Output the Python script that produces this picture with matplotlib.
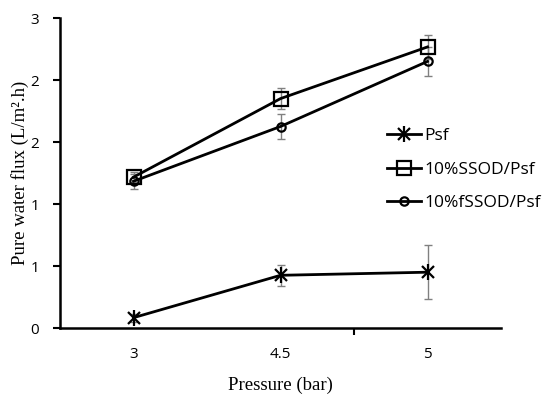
import matplotlib
matplotlib.use('Agg')
import matplotlib.pyplot as plt
from matplotlib.ticker import FormatStrFormatter, FixedLocator
from matplotlib.lines import Line2D

# pressure categories (bar)
pressure = ['3', '4.5', '5']

# pure water flux values
psf = [0.10, 0.51, 0.54]
psf_err = [0.04, 0.10, 0.26]
ssod = [1.46, 2.22, 2.72]
ssod_err = [0.05, 0.10, 0.12]
fssod = [1.42, 1.95, 2.58]
fssod_err = [0.07, 0.12, 0.14]

series = [
    ('Psf', psf, psf_err, 'x'),
    ('10%SSOD/Psf', ssod, ssod_err, 's'),
    ('10%fSSOD/Psf', fssod, fssod_err, 'o'),
]


def main():
    fig = plt.figure(figsize=(5.5, 3.99), dpi=100)
    ax = fig.add_axes([60 / 550, 71 / 399, 441 / 550, 310 / 399])
    x = list(range(len(pressure)))
    for name, vals, err, mk in series:
        ax.errorbar(x, vals, yerr=err, ecolor='#808080', elinewidth=1,
                    capsize=3, capthick=1, fmt='none', zorder=2)
        size = {'x': 8, 's': 10, 'o': 6}[mk]
        ax.plot(x, vals, color='black', lw=2, marker=mk, markersize=size,
                markerfacecolor='none', markeredgecolor='black',
                markeredgewidth=1.6, zorder=3)
    # Excel star marker = x with a vertical stroke
    ax.plot(x, psf, ls='none', marker='|', markersize=12,
            markeredgecolor='black', markeredgewidth=1.6, zorder=3)

    ax.set_xlim(-0.5, 2.5)
    ax.set_ylim(0, 3)
    ax.set_xticks(x)
    ax.set_xticklabels(pressure)
    ax.xaxis.set_minor_locator(FixedLocator([1.5]))
    ax.tick_params(axis='x', which='major', length=0, pad=14)
    ax.tick_params(axis='x', which='minor', length=5, width=1.5)
    ax.set_yticks([0, 0.6, 1.2, 1.8, 2.4, 3.0])
    ax.yaxis.set_major_formatter(FormatStrFormatter('%.0f'))
    ax.tick_params(axis='y', length=5, width=1.5, pad=10)
    for lab in ax.get_xticklabels() + ax.get_yticklabels():
        lab.set_fontfamily('Open Sans')
        lab.set_fontsize(11)

    ax.spines['top'].set_visible(False)
    ax.spines['right'].set_visible(False)
    ax.spines['left'].set_linewidth(1.8)
    ax.spines['bottom'].set_linewidth(1.8)

    ax.set_xlabel('Pressure (bar)', family='Liberation Serif', fontsize=13.5,
                  labelpad=10)
    ax.set_ylabel('Pure water flux (L/m\u00b2.h)', family='Liberation Serif',
                  fontsize=13.5, labelpad=1)

    # legend handles drawn like the series
    star = (Line2D([], [], color='black', lw=2, marker='x', markersize=8,
                   markeredgewidth=1.6),
            Line2D([], [], ls='none', marker='|', markersize=12,
                   markeredgecolor='black', markeredgewidth=1.6))
    sq = Line2D([], [], color='black', lw=2, marker='s', markersize=10,
                markerfacecolor='none', markeredgewidth=1.6)
    ci = Line2D([], [], color='black', lw=2, marker='o', markersize=6,
                markerfacecolor='none', markeredgewidth=1.6)
    ax.legend([star, sq, ci], [s[0] for s in series], loc='center left',
              bbox_to_anchor=(0.705, 0.51), frameon=False,
              prop={'family': 'Open Sans', 'size': 12.5},
              handlelength=2.0, labelspacing=1.0, handletextpad=0.2)
    fig.savefig('out.png', dpi=100)


if __name__ == '__main__':
    main()
